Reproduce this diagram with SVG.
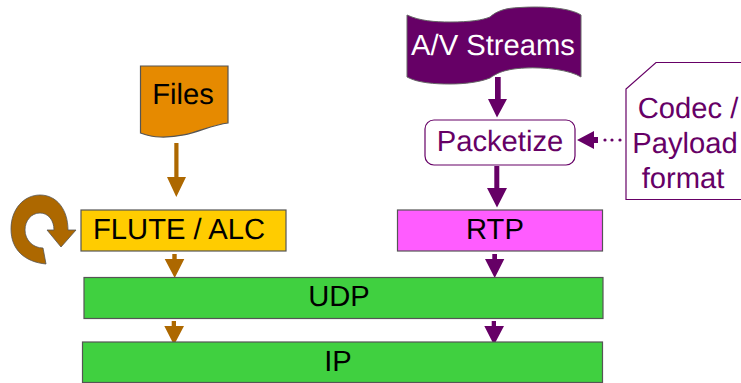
<svg xmlns="http://www.w3.org/2000/svg" width="741" height="383" viewBox="0 0 741 383">
<style>
text{font-family:"Liberation Sans",Arial,sans-serif;font-size:29.2px;text-anchor:middle;text-rendering:geometricPrecision}
.box{stroke:#555;stroke-width:1.2}
.br{fill:#ad6800}
.pu{fill:#660066}
.pt{fill:#660066}
</style>
<rect width="741" height="383" fill="#fff"/>
<g id="connectors">
<path class="br" d="M174.300 143H178.500V177H186L176.300 197L167 177H174.300Z"/>
<path class="br" d="M172.300 254H176.700V259H184.300L174.700 278L164.700 259H172.300Z"/>
<path class="br" d="M171.700 321H176V326H184L174 345L164.300 326H171.700Z"/>
<path class="pu" d="M495 77H500.700V99H507L497 117.500L488 99H495Z"/>
<path class="pu" d="M494.300 166H499.300V188H507L497 207.500L487 188H494.300Z"/>
<path class="pu" d="M492.300 254H497V259H504.300L494.700 278L485 259H492.300Z"/>
<path class="pu" d="M491.700 321H496V326H504L494 345L484.300 326H491.700Z"/>
<path class="pu" d="M577 140L594 131V137H598V143H594V149Z"/>
<circle class="pu" cx="605" cy="140" r="1.600"/><circle class="pu" cx="612" cy="140" r="1.600"/><circle class="pu" cx="620" cy="140" r="1.600"/>
</g>
<g id="loop">
<path class="br" stroke="#555" stroke-width=".8" d="M46 264C25 262 11 250 11 229C11 209 24 195 40 195C57 195 68 210 68 230H76L61 247L47 230H54C54 220 48 213 40 213C31 213 25 221 25 230C25 240 33 248 43 248Z"/>
</g>
<g id="files">
<path class="box" fill="#e68a00" d="M140.500 66H228V123C205 126 190 138 160 137C152 137 146 135 140.500 133Z"/>
<text x="183" y="104">Files</text>
</g>
<g id="streams">
<path class="pu" stroke="#666" d="M407 15C420 21 435 22 450 22C470 22 483 20 490 17C497 11 505 8 520 7.500C545 6 570 8 581 15V77C570 70 545 67 525 68C505 69 497 73 490 78C480 82 465 84 450 84C435 84 418 83 407 77Z"/>
<text x="493" y="55" fill="#fff">A/V Streams</text>
</g>
<g id="packetize">
<rect x="425" y="120" width="150" height="45" rx="9" fill="#fff" stroke="#660066" stroke-width="1.200"/>
<text x="500" y="151" class="pt">Packetize</text>
</g>
<g id="codec">
<path fill="#fff" stroke="#660066" stroke-width="1.200" d="M741 62.500H656L626 89V199.500H741"/>
<text x="688" y="118" class="pt">Codec /</text>
<text x="685" y="153" class="pt">Payload</text>
<text x="683" y="188" class="pt">format</text>
</g>
<g id="flute">
<rect class="box" x="81" y="210" width="205" height="41" fill="#ffcc00"/>
<text x="179" y="239">FLUTE / ALC</text>
</g>
<g id="rtp">
<rect class="box" x="397.500" y="210" width="205" height="41" fill="#ff5cff"/>
<text x="495" y="239">RTP</text>
</g>
<g id="udp">
<rect class="box" x="84" y="277.500" width="519" height="41" fill="#40d040"/>
<text x="339" y="306">UDP</text>
</g>
<g id="ip">
<rect class="box" x="82.500" y="342" width="520" height="40.500" fill="#40d040"/>
<text x="338" y="371">IP</text>
</g>
</svg>
